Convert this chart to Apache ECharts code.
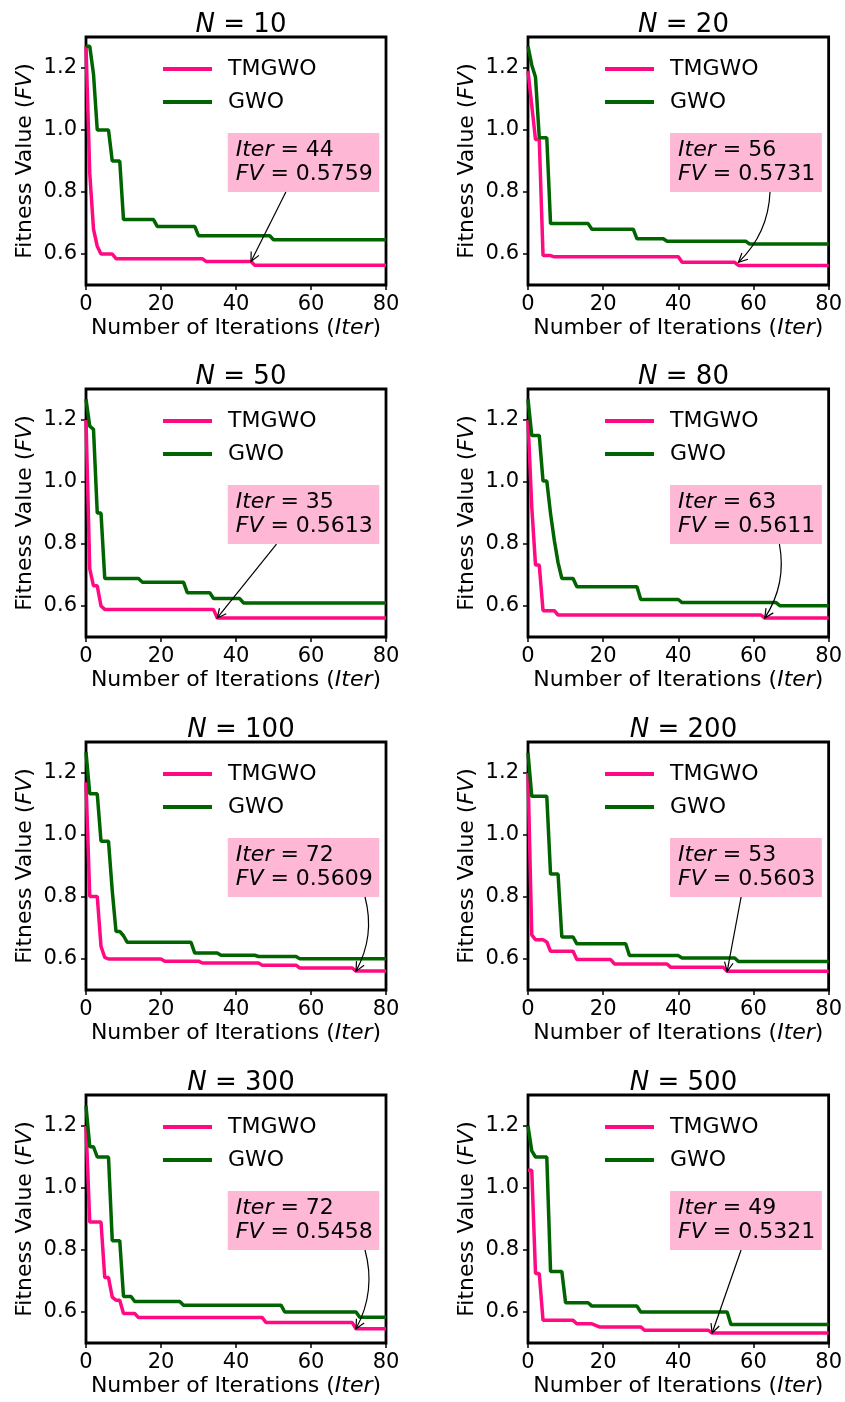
<!DOCTYPE html>
<html><head><meta charset="utf-8">
<script src="https://cdn.jsdelivr.net/npm/echarts@6/dist/echarts.min.js"></script>
<style>html,body{margin:0;padding:0;background:#fff}#c{width:845px;height:1402px}</style>
</head><body><div id="c"></div>
<script>
// ---------- data ----------
const panelN = [10, 20, 50, 80, 100, 200, 300, 500];
const xTicks = [0, 20, 40, 60, 80];
const yTicks = [0.6, 0.8, 1.0, 1.2];

const tmgwo10 = [[0,1.27],[1,0.86],[2,0.68],[3,0.625],[4,0.60],[7,0.60],[8,0.585],[31,0.585],[32,0.5759],[44,0.5759],[45,0.564],[80,0.564]];
const gwo10   = [[0,1.27],[1,1.27],[2,1.18],[3,1.0],[6,1.0],[7,0.90],[9,0.90],[10,0.711],[18,0.711],[19,0.689],[29,0.689],[30,0.659],[49,0.659],[50,0.646],[80,0.646]];
const tmgwo20 = [[0,1.19],[1,1.08],[2,0.969],[3,0.969],[4,0.595],[6,0.595],[7,0.591],[40,0.591],[41,0.5731],[55,0.5731],[56,0.563],[80,0.563]];
const gwo20   = [[0,1.27],[1,1.21],[2,1.17],[3,0.975],[5,0.975],[6,0.698],[16,0.698],[17,0.68],[28,0.68],[29,0.649],[36,0.649],[37,0.641],[58,0.641],[59,0.632],[80,0.632]];
const tmgwo50 = [[0,1.2],[1,0.72],[2,0.665],[3,0.665],[4,0.60],[5,0.589],[34,0.589],[35,0.5613],[80,0.5613]];
const gwo50   = [[0,1.267],[1,1.18],[2,1.17],[3,0.90],[4,0.90],[5,0.689],[14,0.689],[15,0.677],[26,0.677],[27,0.643],[33,0.643],[34,0.624],[41,0.624],[42,0.61],[80,0.61]];
const tmgwo80 = [[0,1.2],[1,0.92],[2,0.732],[3,0.732],[4,0.585],[7,0.585],[8,0.571],[62,0.571],[63,0.5611],[80,0.5611]];
const gwo80   = [[0,1.267],[1,1.15],[3,1.15],[4,1.003],[5,1.003],[6,0.898],[7,0.812],[8,0.74],[9,0.689],[12,0.689],[13,0.662],[29,0.662],[30,0.621],[40,0.621],[41,0.611],[66,0.611],[67,0.601],[80,0.601]];
const tmgwo100 = [[0,1.17],[1,0.802],[3,0.802],[4,0.641],[5,0.605],[6,0.60],[20,0.60],[21,0.593],[30,0.593],[31,0.587],[46,0.587],[47,0.58],[56,0.58],[57,0.571],[71,0.571],[72,0.5609],[80,0.5609]];
const gwo100   = [[0,1.267],[1,1.133],[3,1.133],[4,0.98],[6,0.98],[7,0.82],[8,0.689],[9,0.689],[10,0.675],[11,0.654],[28,0.654],[29,0.619],[35,0.619],[36,0.612],[45,0.612],[46,0.608],[56,0.608],[57,0.601],[80,0.601]];
const tmgwo200 = [[0,1.2],[1,0.678],[2,0.662],[4,0.662],[5,0.655],[6,0.625],[12,0.625],[13,0.598],[22,0.598],[23,0.584],[37,0.584],[38,0.573],[52,0.573],[53,0.5603],[80,0.5603]];
const gwo200   = [[0,1.265],[1,1.125],[5,1.125],[6,0.874],[8,0.874],[9,0.671],[12,0.671],[13,0.649],[26,0.649],[27,0.611],[40,0.611],[41,0.603],[55,0.603],[56,0.592],[80,0.592]];
const tmgwo300 = [[0,1.2],[1,0.89],[4,0.89],[5,0.711],[6,0.711],[7,0.648],[8,0.638],[9,0.638],[10,0.595],[13,0.595],[14,0.582],[47,0.582],[48,0.566],[71,0.566],[72,0.5458],[80,0.5458]];
const gwo300   = [[0,1.265],[1,1.133],[2,1.133],[3,1.10],[6,1.10],[7,0.83],[9,0.83],[10,0.65],[12,0.65],[13,0.634],[25,0.634],[26,0.622],[52,0.622],[53,0.60],[72,0.60],[73,0.583],[80,0.583]];
const tmgwo500 = [[0,1.057],[1,1.057],[2,0.724],[3,0.724],[4,0.573],[12,0.573],[13,0.562],[17,0.562],[19,0.552],[30,0.552],[31,0.541],[48,0.541],[49,0.5321],[80,0.5321]];
const gwo500   = [[0,1.20],[1,1.12],[2,1.10],[5,1.10],[6,0.731],[9,0.731],[10,0.63],[16,0.63],[17,0.619],[29,0.619],[30,0.60],[53,0.60],[54,0.56],[80,0.56]];

const tmgwoSeries = [tmgwo10, tmgwo20, tmgwo50, tmgwo80, tmgwo100, tmgwo200, tmgwo300, tmgwo500];
const gwoSeries   = [gwo10, gwo20, gwo50, gwo80, gwo100, gwo200, gwo300, gwo500];

const annoIter = [44, 56, 35, 63, 72, 53, 72, 49];
const annoFV   = [0.5759, 0.5731, 0.5613, 0.5611, 0.5609, 0.5603, 0.5458, 0.5321];
const annoFVText = ['0.5759', '0.5731', '0.5613', '0.5611', '0.5609', '0.5603', '0.5458', '0.5321'];
const arrowTailIter = [53.3, 64.4, 50.8, 66.9, 74.4, 56.7, 74.4, 56.7];
const arrowRad = [0, -0.2, 0, -0.2, -0.2, 0, -0.2, 0];

// ---------- layout ----------
const FONT = 'DejaVu Sans';
const PINK = '#ff0a82';
const GREEN = '#006400';
const BOXC = '#ffb7d6';
const colLeft = [86, 528];
const plotW = [300, 301];
const rowTop = [37, 389, 742, 1095];
const plotH = 248;
const BOX_X0 = 37.8, BOX_X1 = 78.2, BOX_Y0 = 0.80, BOX_Y1 = 0.99;

const grids = [], xAxes = [], yAxes = [], titles = [], legends = [], series = [];

panelN.forEach((n, i) => {
  const r = Math.floor(i / 2), c = i % 2;
  grids.push({ left: colLeft[c], top: rowTop[r], width: plotW[c], height: plotH,
    show: true, borderColor: '#000', borderWidth: 2.8, backgroundColor: 'transparent', containLabel: false });
  xAxes.push({ type: 'value', gridIndex: i, min: xTicks[0], max: xTicks[xTicks.length - 1], interval: 20,
    axisLine: { show: false }, splitLine: { show: false },
    axisTick: { show: true, inside: false, length: 5, lineStyle: { color: '#000', width: 1.5 } },
    axisLabel: { color: '#000', fontSize: 21, fontFamily: FONT, margin: 9 },
    name: 'Number of Iterations ({i|Iter})', nameLocation: 'middle', nameGap: 32,
    nameTextStyle: { color: '#000', fontSize: 22, fontFamily: FONT,
      rich: { i: { fontStyle: 'italic', fontSize: 22, fontFamily: FONT, color: '#000' } } } });
  yAxes.push({ type: 'value', gridIndex: i, min: 0.5, max: 1.3,
    axisLine: { show: false }, splitLine: { show: false },
    axisTick: { show: true, inside: false, length: 5, customValues: yTicks, lineStyle: { color: '#000', width: 1.5 } },
    axisLabel: { color: '#000', fontSize: 21, fontFamily: FONT, margin: 9, customValues: yTicks,
      formatter: v => v.toFixed(1) },
    name: 'Fitness Value ({i|FV})', nameLocation: 'middle', nameGap: 50,
    nameTextStyle: { color: '#000', fontSize: 22, fontFamily: FONT,
      rich: { i: { fontStyle: 'italic', fontSize: 22, fontFamily: FONT, color: '#000' } } } });
  titles.push({ text: '{i|N} = ' + n, left: colLeft[c] + plotW[c] / 2, top: rowTop[r] - 30, textAlign: 'center',
    textStyle: { fontSize: 26, fontWeight: 'normal', color: '#000', fontFamily: FONT,
      rich: { i: { fontStyle: 'italic', fontSize: 26, fontFamily: FONT, color: '#000' } } } });
  legends.push({ left: colLeft[c] + 72, top: rowTop[r] + 16, orient: 'vertical', icon: 'rect',
    itemWidth: 49, itemHeight: 4, itemGap: 11, selectedMode: false, data: ['TMGWO', 'GWO'],
    textStyle: { fontSize: 22, fontFamily: FONT, color: '#000', lineHeight: 22, padding: [0, 0, 0, 11] } });
  series.push({ name: 'TMGWO', type: 'line', xAxisIndex: i, yAxisIndex: i, data: tmgwoSeries[i],
    showSymbol: false, symbol: 'none', lineStyle: { color: PINK, width: 3.5 }, itemStyle: { color: PINK }, z: 3 });
  series.push({ name: 'GWO', type: 'line', xAxisIndex: i, yAxisIndex: i, data: gwoSeries[i],
    showSymbol: false, symbol: 'none', lineStyle: { color: GREEN, width: 3.5 }, itemStyle: { color: GREEN }, z: 4 });
  series.push({ name: 'anno' + i, type: 'custom', xAxisIndex: i, yAxisIndex: i, clip: false, z: 10,
    data: [[annoIter[i], annoFV[i], arrowTailIter[i], arrowRad[i], i]],
    renderItem: (params, api) => {
      const k = api.value(4);
      const head = api.coord([api.value(0), api.value(1)]);
      const tl = api.coord([BOX_X0, BOX_Y1]);
      const br = api.coord([BOX_X1, BOX_Y0]);
      const tail = api.coord([api.value(2), BOX_Y0]);
      const rad = api.value(3);
      const children = [];
      children.push({ type: 'rect', shape: { x: tl[0], y: tl[1], width: br[0] - tl[0], height: br[1] - tl[1] },
        style: { fill: BOXC } });
      children.push({ type: 'text', x: tl[0] + 8, y: (tl[1] + br[1]) / 2,
        style: { text: '{i|Iter} = ' + annoIter[k] + '\n{i|FV} = ' + annoFVText[k],
          fontSize: 22, fontFamily: FONT, fill: '#000', lineHeight: 24, verticalAlign: 'middle', align: 'left',
          rich: { i: { fontStyle: 'italic', fontSize: 22, fontFamily: FONT, fill: '#000', lineHeight: 24 } } } });
      const dx = head[0] - tail[0], sdy = head[1] - tail[1];
      let ctrl = null, dirFrom;
      if (rad !== 0) {
        ctrl = [(tail[0] + head[0]) / 2 - rad * sdy, (tail[1] + head[1]) / 2 + rad * dx];
        children.push({ type: 'bezierCurve', shape: { x1: tail[0], y1: tail[1], x2: head[0], y2: head[1], cpx1: ctrl[0], cpy1: ctrl[1] },
          style: { stroke: '#000', lineWidth: 1.2, fill: null } });
        dirFrom = ctrl;
      } else {
        children.push({ type: 'line', shape: { x1: tail[0], y1: tail[1], x2: head[0], y2: head[1] },
          style: { stroke: '#000', lineWidth: 1.2 } });
        dirFrom = tail;
      }
      const ang = Math.atan2(head[1] - dirFrom[1], head[0] - dirFrom[0]);
      const L = 10, a = 0.45;
      const p1 = [head[0] - L * Math.cos(ang - a), head[1] - L * Math.sin(ang - a)];
      const p2 = [head[0] - L * Math.cos(ang + a), head[1] - L * Math.sin(ang + a)];
      children.push({ type: 'polyline', shape: { points: [p1, head, p2] }, style: { stroke: '#000', lineWidth: 1.2, fill: null } });
      return { type: 'group', children };
    } });
});

const chart = echarts.init(document.getElementById('c'), null, { renderer: 'canvas' });
chart.setOption({
  animation: false,
  backgroundColor: '#fff',
  textStyle: { fontFamily: FONT },
  title: titles, legend: legends, grid: grids, xAxis: xAxes, yAxis: yAxes, series
});
</script>
</body></html>
